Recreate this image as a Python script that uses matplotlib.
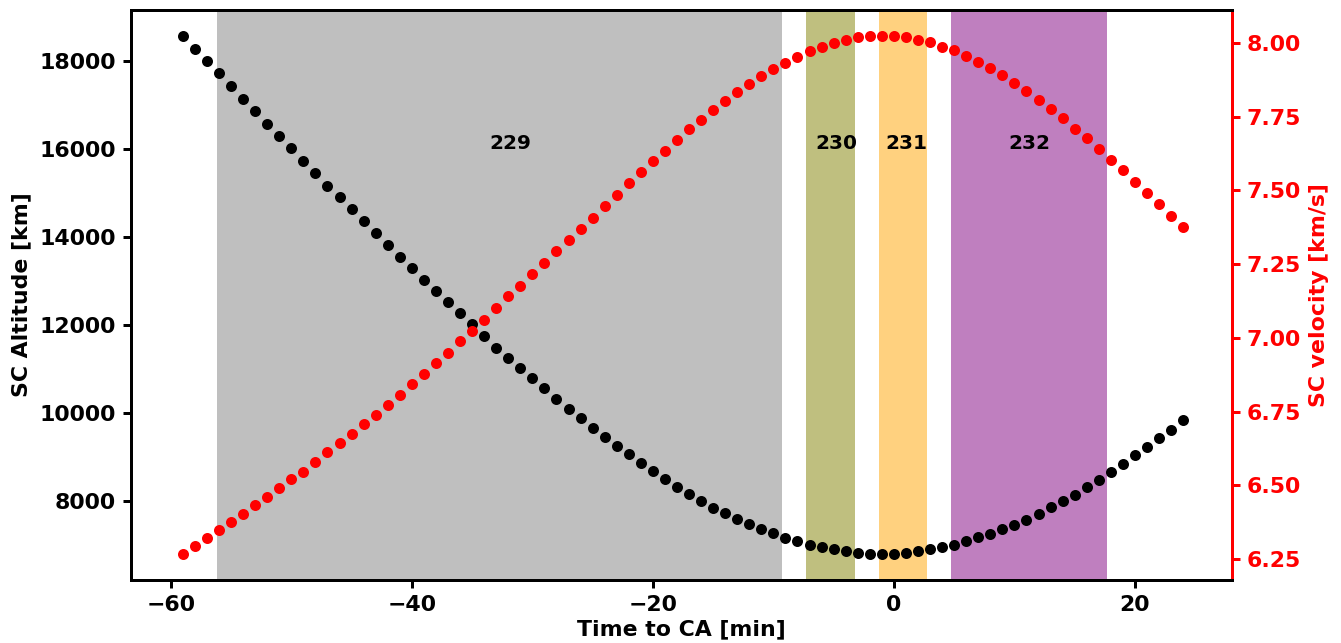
import matplotlib
matplotlib.use("Agg")
import matplotlib.pyplot as plt
import numpy as np

plt.rcParams["font.weight"] = "bold"
plt.rcParams["axes.labelweight"] = "bold"
plt.rcParams["font.size"] = 11

# time to closest approach [min]
time_min = list(range(-59, 25))

# spacecraft altitude [km]
altitude = [
    18566, 18272, 17993, 17712, 17427, 17140, 16861, 16574, 16295, 16014,
    15729, 15448, 15163, 14898, 14620, 14362, 14083, 13818, 13540, 13284,
    13019, 12770, 12505, 12256, 12007, 11745, 11480, 11246, 11011, 10778,
    10551, 10318, 10092, 9888, 9653, 9449, 9238, 9057, 8853, 8672,
    8491, 8303, 8152, 8000, 7841, 7715, 7586, 7457, 7359, 7253,
    7155, 7072, 6990, 6936, 6891, 6845, 6816, 6795, 6784, 6786,
    6815, 6845, 6899, 6936, 6997, 7081, 7162, 7239, 7343, 7434,
    7570, 7692, 7850, 7986, 8122, 8310, 8469, 8650, 8824, 9028,
    9209, 9426, 9616, 9827,
]

# spacecraft velocity [km/s]
velocity = [
    6.267, 6.294, 6.322, 6.349, 6.376, 6.402, 6.432, 6.459, 6.490, 6.520,
    6.547, 6.579, 6.613, 6.643, 6.673, 6.708, 6.740, 6.774, 6.808, 6.844,
    6.878, 6.916, 6.950, 6.988, 7.024, 7.061, 7.100, 7.141, 7.177, 7.216,
    7.254, 7.294, 7.331, 7.369, 7.408, 7.446, 7.485, 7.524, 7.561, 7.599,
    7.634, 7.672, 7.707, 7.739, 7.773, 7.804, 7.834, 7.860, 7.889, 7.911,
    7.933, 7.953, 7.972, 7.988, 8.000, 8.011, 8.019, 8.024, 8.024, 8.024,
    8.019, 8.011, 8.002, 7.988, 7.976, 7.957, 7.937, 7.915, 7.892, 7.865,
    7.838, 7.807, 7.776, 7.746, 7.710, 7.677, 7.642, 7.604, 7.570, 7.530,
    7.492, 7.454, 7.415, 7.377,
]

# observation windows
orbit_ids = ["229", "230", "231", "232"]
win_start = [-56.2, -7.3, -1.25, 4.75]
win_end = [-9.3, -3.2, 2.75, 17.7]
win_colors = ["gray", "olive", "orange", "purple"]
label_x = [-31.8, -4.8, 1.05, 11.2]
label_y = 16000

fig, ax = plt.subplots(figsize=(1341 / 144, 643 / 144), dpi=144)
plt.subplots_adjust(left=0.0977, right=0.9187, top=0.9844, bottom=0.098)

for s, e, c, lab, lx in zip(win_start, win_end, win_colors, orbit_ids, label_x):
    ax.axvspan(s, e, color=c, alpha=0.5, lw=0)
    ax.text(lx, label_y, lab, ha="center", fontweight="bold", fontsize=10)

ax.plot(time_min, altitude, "o", color="black", markersize=4.5)
ax.set_xlim(-63.3, 28.05)
ax.set_xlabel("Time to CA [min]", labelpad=2)
ax.set_ylabel("SC Altitude [km]")

ax2 = ax.twinx()
ax2.plot(time_min, velocity, "o", color="red", markersize=4.5)
ax2.set_ylabel("SC velocity [km/s]", color="red")
ax2.tick_params(axis="y", colors="red")
ax2.spines["right"].set_color("red")

for a in (ax, ax2):
    for sp in a.spines.values():
        sp.set_linewidth(1.5)
    a.tick_params(width=1.5, length=4)

fig.savefig("out.png", dpi=144)
